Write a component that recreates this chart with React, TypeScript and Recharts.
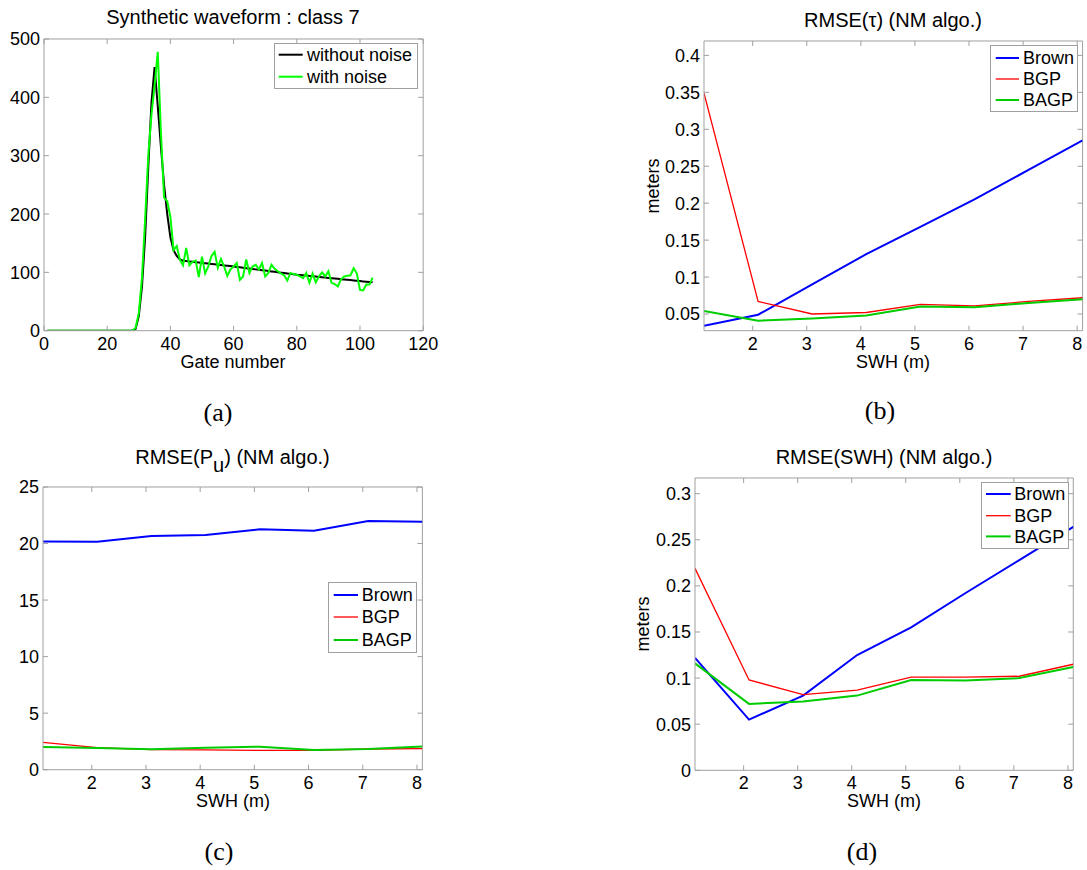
import React from "react";
import { LineChart, Line, XAxis, YAxis, Legend, ReferenceLine } from "recharts";

// ---- panel (a): synthetic waveform, class 7 ----
const gates = [
  1, 2, 3, 4, 5, 6, 7, 8, 9, 10, 11, 12, 13, 14, 15, 16, 17, 18, 19, 20,
  21, 22, 23, 24, 25, 26, 27, 28, 29, 30, 31, 32, 33, 34, 35, 36, 37, 38, 39, 40,
  41, 42, 43, 44, 45, 46, 47, 48, 49, 50, 51, 52, 53, 54, 55, 56, 57, 58, 59, 60,
  61, 62, 63, 64, 65, 66, 67, 68, 69, 70, 71, 72, 73, 74, 75, 76, 77, 78, 79, 80,
  81, 82, 83, 84, 85, 86, 87, 88, 89, 90, 91, 92, 93, 94, 95, 96, 97, 98, 99, 100,
  101, 102, 103, 104,
];
const withoutNoise = [
  0, 0, 0, 0, 0, 0, 0, 0, 0, 0, 0, 0, 0, 0, 0, 0, 0, 0, 0, 0,
  0, 0, 0, 0, 0, 0, 0, 0, 3, 25, 75, 160, 280, 390, 452, 385, 315, 250, 200, 160,
  138, 128, 122, 120, 119.4, 118.8, 118.1, 117.5, 116.9, 116.2, 115.6, 115, 114.4, 113.8, 113.1, 112.5, 111.9, 111.3, 110.7, 110,
  109.3, 108.6, 107.9, 107.2, 106.5, 105.8, 105.1, 104.4, 103.7, 103, 102.3, 101.6, 100.9, 100.2, 99.5, 98.8, 98.1, 97.4, 96.7, 96,
  95.5, 94.9, 94.4, 93.8, 93.3, 92.7, 92.2, 91.6, 91.1, 90.5, 90, 89.4, 88.9, 88.3, 87.8, 87.2, 86.7, 86.1, 85.6, 85,
  84.5, 84, 83.5, 83,
];
const withNoise = [
  0, 0, 0, 0, 0, 0, 0, 0, 0, 0, 0, 0, 0, 0, 0, 0, 0, 0, 0, 0,
  0, 0, 0, 0, 0, 0, 0, 0, 5, 30, 90, 190, 300, 370, 420, 478, 340, 228, 222, 195,
  138, 145, 122, 112, 142, 112, 118, 120, 92, 127, 98, 110, 128, 135, 108, 123, 110, 94, 105, 110,
  116, 87, 93, 122, 99, 110, 113, 105, 116, 93, 99, 113, 106, 102, 98, 95, 86, 99, 97, 96,
  93, 90, 99, 82, 98, 83, 93, 100, 93, 102, 82, 80, 76, 88, 93, 94, 95, 107, 98, 70,
  69, 79, 79, 91,
];

// ---- panels (b)-(d): RMSE vs SWH ----
const swh = [1.1, 2.1, 3.1, 4.1, 5.1, 6.1, 7.1, 8.1];

const tauBrown = [0.034, 0.049, 0.09, 0.131, 0.168, 0.205, 0.245, 0.285];
const tauBGP = [0.349, 0.067, 0.05, 0.052, 0.063, 0.061, 0.067, 0.072];
const tauBAGP = [0.054, 0.041, 0.044, 0.048, 0.06, 0.059, 0.065, 0.07];

const puBrown = [20.19, 20.15, 20.67, 20.75, 21.26, 21.14, 21.99, 21.93];
const puBGP = [2.42, 1.95, 1.77, 1.76, 1.71, 1.71, 1.83, 1.86];
const puBAGP = [2.0, 1.92, 1.8, 1.95, 2.03, 1.74, 1.83, 2.06];

const swhBrown = [0.122, 0.055, 0.081, 0.125, 0.155, 0.192, 0.228, 0.264];
const swhBGP = [0.219, 0.098, 0.082, 0.087, 0.101, 0.101, 0.102, 0.115];
const swhBAGP = [0.116, 0.072, 0.0745, 0.081, 0.098, 0.0975, 0.1, 0.112];

const gateTicks = [0, 20, 40, 60, 80, 100, 120];
const ampTicks = [0, 100, 200, 300, 400, 500];
const swhTicks = [2, 3, 4, 5, 6, 7, 8];
const tauTicks = [0.05, 0.1, 0.15, 0.2, 0.25, 0.3, 0.35, 0.4];
const puTicks = [0, 5, 10, 15, 20, 25];
const swhErrTicks = [0, 0.05, 0.1, 0.15, 0.2, 0.25, 0.3];

const waveRows = gates.map((g, i) => ({ gate: g, clean: withoutNoise[i], noisy: withNoise[i] }));
const tauRows = swh.map((s, i) => ({ swh: s, brown: tauBrown[i], bgp: tauBGP[i], bagp: tauBAGP[i] }));
const puRows = swh.map((s, i) => ({ swh: s, brown: puBrown[i], bgp: puBGP[i], bagp: puBAGP[i] }));
const swhRows = swh.map((s, i) => ({ swh: s, brown: swhBrown[i], bgp: swhBGP[i], bagp: swhBAGP[i] }));

const AXIS = "#a0a0a0";
const FONT = "'Liberation Sans', Arial, sans-serif";
const SERIF = "'Liberation Serif', 'DejaVu Serif', serif";
const FS = 18;
const TITLE_FS = 20;
const PAD = { l: 60, r: 20, t: 20, b: 40 };

type Series = { key: string; name: string; color: string; width: number };

const waveSeries: Series[] = [
  { key: "clean", name: "without noise", color: "#000000", width: 2 },
  { key: "noisy", name: "with noise", color: "#00ff00", width: 2 },
];
const rmseSeries: Series[] = [
  { key: "brown", name: "Brown", color: "#0000ff", width: 2 },
  { key: "bgp", name: "BGP", color: "#ff0000", width: 1.3 },
  { key: "bagp", name: "BAGP", color: "#00cc00", width: 2 },
];

type Box = { L: number; R: number; T: number; B: number };
type LegendBox = { x: number; y: number; w: number; h: number; rows: number[]; lx1: number; lx2: number; tx: number };

function Panel(props: {
  box: Box;
  rows: any[];
  xKey: string;
  xDomain: [number, number];
  xTicks: number[];
  yDomain: [number, number];
  yTicks: number[];
  series: Series[];
  legend: LegendBox;
}) {
  const { box, rows, xKey, xDomain, xTicks, yDomain, yTicks, series, legend } = props;
  const left = box.L - PAD.l;
  const top = box.T - PAD.t;
  const pw = box.R - box.L;
  const ph = box.B - box.T;
  const w = pw + PAD.l + PAD.r;
  const h = ph + PAD.t + PAD.b;

  // matlab style: inward ticks on both opposite sides of the box
  const bottomTick = (p: any) => (
    <g>
      <line x1={p.x} y1={p.y} x2={p.x} y2={p.y - 5} stroke={AXIS} />
      <line x1={p.x} y1={p.y - ph} x2={p.x} y2={p.y - ph + 5} stroke={AXIS} />
      <text x={p.x} y={p.y + 19} textAnchor="middle" fontSize={FS} fontFamily={FONT} fill="#000">
        {String(p.payload.value)}
      </text>
    </g>
  );
  const leftTick = (p: any) => (
    <g>
      <line x1={p.x} y1={p.y} x2={p.x + 5} y2={p.y} stroke={AXIS} />
      <line x1={p.x + pw} y1={p.y} x2={p.x + pw - 5} y2={p.y} stroke={AXIS} />
      <text x={p.x - 4} y={p.y + 6.5} textAnchor="end" fontSize={FS} fontFamily={FONT} fill="#000">
        {String(p.payload.value)}
      </text>
    </g>
  );

  const renderLegend = () => (
    <div
      style={{
        position: "relative",
        width: legend.w,
        height: legend.h,
        boxSizing: "border-box",
        border: `1px solid ${AXIS}`,
        background: "#fff",
      }}
    >
      <svg width={legend.w} height={legend.h} style={{ position: "absolute", left: -1, top: -1 }}>
        {series.map((s, i) => (
          <line
            key={s.key}
            x1={legend.lx1 - legend.x}
            x2={legend.lx2 - legend.x}
            y1={legend.rows[i] - legend.y}
            y2={legend.rows[i] - legend.y}
            stroke={s.color}
            strokeWidth={s.width}
          />
        ))}
      </svg>
      {series.map((s, i) => (
        <div
          key={s.key}
          style={{
            position: "absolute",
            left: legend.tx - legend.x - 1,
            top: legend.rows[i] - legend.y - 12,
            fontFamily: FONT,
            fontSize: FS,
            lineHeight: "22px",
            color: "#000",
            whiteSpace: "nowrap",
          }}
        >
          {s.name}
        </div>
      ))}
    </div>
  );

  return (
    <div style={{ position: "absolute", left, top }}>
      <LineChart width={w} height={h} data={rows} margin={{ top: PAD.t, right: PAD.r, left: 0, bottom: 0 }}>
        <XAxis
          dataKey={xKey}
          type="number"
          domain={xDomain}
          ticks={xTicks}
          allowDataOverflow
          interval={0}
          height={PAD.b}
          axisLine={{ stroke: AXIS }}
          tickLine={false}
          tickSize={0}
          tickMargin={0}
          tick={bottomTick}
        />
        <YAxis
          type="number"
          domain={yDomain}
          ticks={yTicks}
          allowDataOverflow
          interval={0}
          width={PAD.l}
          axisLine={{ stroke: AXIS }}
          tickLine={false}
          tickSize={0}
          tickMargin={0}
          tick={leftTick}
        />
        <ReferenceLine y={yDomain[1]} stroke={AXIS} strokeWidth={1} />
        <ReferenceLine x={xDomain[1]} stroke={AXIS} strokeWidth={1} />
        {series.map((s) => (
          <Line
            key={s.key}
            type="linear"
            dataKey={s.key}
            name={s.name}
            stroke={s.color}
            strokeWidth={s.width}
            dot={false}
            activeDot={false}
            isAnimationActive={false}
          />
        ))}
        <Legend
          layout="horizontal"
          verticalAlign="middle"
          align="center"
          content={renderLegend}
          wrapperStyle={{ position: "absolute", left: legend.x - left, top: legend.y - top, width: legend.w, height: legend.h }}
        />
      </LineChart>
    </div>
  );
}

function Label(props: { x: number; y: number; children: React.ReactNode; rotate?: boolean; serif?: boolean; size?: number }) {
  const { x, y, children, rotate, serif, size } = props;
  return (
    <div
      style={{
        position: "absolute",
        left: x,
        top: y,
        transform: `translate(-50%, -50%)${rotate ? " rotate(-90deg)" : ""}`,
        fontFamily: serif ? SERIF : FONT,
        fontSize: size ?? FS,
        lineHeight: 1,
        whiteSpace: "nowrap",
        color: "#000",
      }}
    >
      {children}
    </div>
  );
}

export default function App() {
  return (
    <div style={{ position: "fixed", left: 0, top: 0, width: 1087, height: 870, overflow: "hidden", background: "#fff" }}>
      {/* (a) */}
      <Panel
        box={{ L: 43.5, R: 422.7, T: 39.3, B: 331 }}
        rows={waveRows}
        xKey="gate"
        xDomain={[0, 120]}
        xTicks={gateTicks}
        yDomain={[0, 500]}
        yTicks={ampTicks}
        series={waveSeries}
        legend={{ x: 274.3, y: 43.3, w: 143.4, h: 45.7, rows: [55, 77], lx1: 279, lx2: 303, tx: 307 }}
      />
      <Label x={233} y={17} size={TITLE_FS}>Synthetic waveform : class 7</Label>
      <Label x={233} y={362}>Gate number</Label>
      <Label x={218} y={413} serif size={26}>(a)</Label>

      {/* (b) */}
      <Panel
        box={{ L: 703.7, R: 1082.3, T: 41.3, B: 331 }}
        rows={tauRows}
        xKey="swh"
        xDomain={[1.1, 8.1]}
        xTicks={swhTicks}
        yDomain={[0.0274, 0.4195]}
        yTicks={tauTicks}
        series={rmseSeries}
        legend={{ x: 990, y: 45, w: 88, h: 67, rows: [58, 79, 100], lx1: 995.7, lx2: 1019, tx: 1023 }}
      />
      <Label x={893} y={20} size={TITLE_FS}>RMSE(τ) (NM algo.)</Label>
      <Label x={653} y={186} rotate>meters</Label>
      <Label x={893} y={362}>SWH (m)</Label>
      <Label x={880} y={411} serif size={26}>(b)</Label>

      {/* (c) */}
      <Panel
        box={{ L: 43.3, R: 422.7, T: 487.3, B: 770 }}
        rows={puRows}
        xKey="swh"
        xDomain={[1.1, 8.1]}
        xTicks={swhTicks}
        yDomain={[0, 25]}
        yTicks={puTicks}
        series={rmseSeries}
        legend={{ x: 328, y: 582, w: 89, h: 71, rows: [595, 617, 640], lx1: 333.7, lx2: 358, tx: 361.7 }}
      />
      <Label x={232.5} y={456.5} size={TITLE_FS}>
        RMSE(P<span style={{ position: "relative", top: 8 }}>u</span>) (NM algo.)
      </Label>
      <Label x={233} y={801}>SWH (m)</Label>
      <Label x={219} y={852} serif size={26}>(c)</Label>

      {/* (d) */}
      <Panel
        box={{ L: 695, R: 1073.3, T: 477.7, B: 770 }}
        rows={swhRows}
        xKey="swh"
        xDomain={[1.1, 8.1]}
        xTicks={swhTicks}
        yDomain={[0, 0.317]}
        yTicks={swhErrTicks}
        series={rmseSeries}
        legend={{ x: 981, y: 482.3, w: 88.3, h: 66.7, rows: [494.3, 516, 536.7], lx1: 986, lx2: 1010.7, tx: 1014.3 }}
      />
      <Label x={884} y={456.5} size={TITLE_FS}>RMSE(SWH) (NM algo.)</Label>
      <Label x={643} y={624} rotate>meters</Label>
      <Label x={884} y={801}>SWH (m)</Label>
      <Label x={862} y={852} serif size={26}>(d)</Label>
    </div>
  );
}
